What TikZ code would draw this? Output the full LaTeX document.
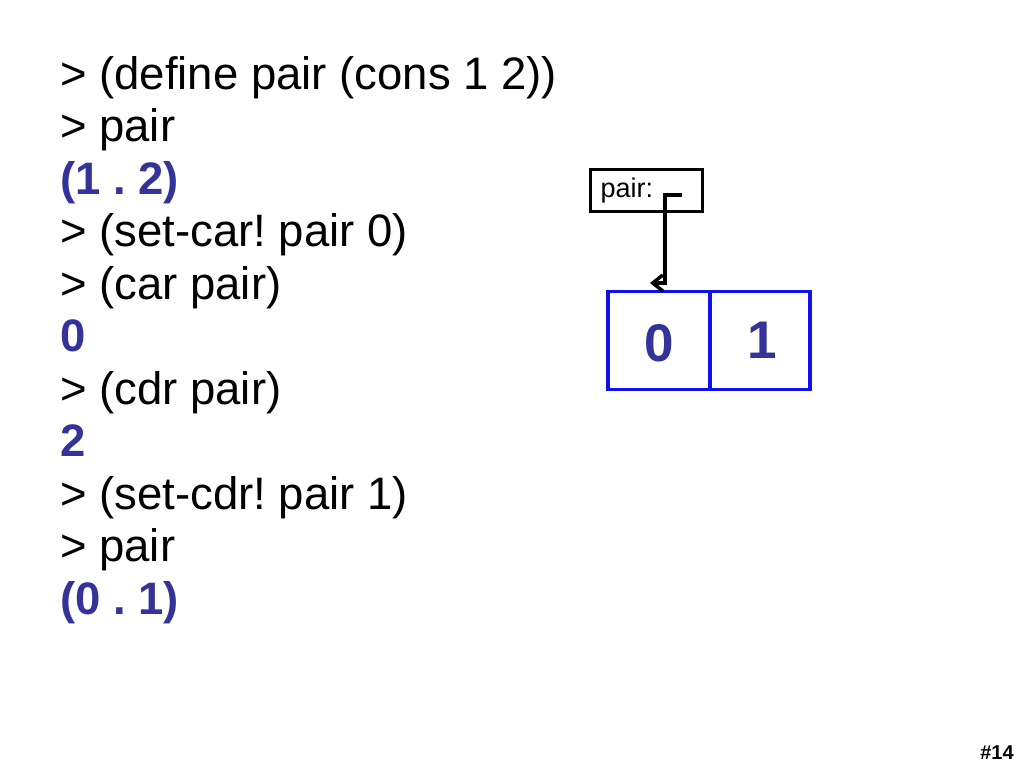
\documentclass[tikz,border=0pt]{standalone}
\usepackage{fontspec}
\setmainfont{Liberation Sans}
\usetikzlibrary{arrows.meta}
\definecolor{ansblue}{HTML}{333399}
\definecolor{cellblue}{HTML}{1010E8}
\frenchspacing
\begin{document}
\begin{tikzpicture}[x=1pt,y=-1pt,
  codeline/.style={anchor=base west,inner sep=0pt,font=\fontsize{45.5}{45.5}\selectfont},
  answer/.style={codeline,text=ansblue,font=\fontsize{45.5}{45.5}\selectfont\bfseries},
  cell/.style={draw=cellblue,line width=3.5pt,minimum height=98pt,inner sep=0pt,text=ansblue,font=\fontsize{53}{53}\selectfont\bfseries},
  varbox/.style={draw=black,line width=3.5pt,minimum width=112pt,minimum height=42pt,inner xsep=10pt,inner ysep=0pt,text width=92pt,align=left,font=\fontsize{27}{27}\selectfont}
]
\useasboundingbox (0,0) rectangle (1024,768);
\fill[white] (0,0) rectangle (1024,768);
\node[codeline] (l1) at (60,89) {> (define pair (cons 1 2))};
\node[codeline] (l2) at (60,141.5) {> pair};
\node[answer] (l3) at (60,194) {(1 . 2)};
\node[codeline] (l4) at (60,246.5) {> (set-car! pair 0)};
\node[codeline] (l5) at (60,299) {> (car pair)};
\node[answer] (l6) at (60,351.5) {0};
\node[codeline] (l7) at (60,404) {> (cdr pair)};
\node[answer] (l8) at (60,456.5) {2};
\node[codeline] (l9) at (60,509) {> (set-cdr! pair 1)};
\node[codeline] (l10) at (60,561.5) {> pair};
\node[answer] (l11) at (60,614) {(0 . 1)};

\node[varbox] (pairbox) at (646.5,190.5) {pair:};
\node[cell,minimum width=102pt] (car) at (659,340.5) {\raisebox{-4pt}[34pt][0pt]{0}\hspace{8pt}};
\node[cell,minimum width=100pt] (cdr) at (760,340.5) {\hspace{4pt}1};

\coordinate (ptr) at (682,195);
\coordinate (tip) at (650,283);
\draw[line width=3.5pt,-{Straight Barb[length=10pt,width=16pt]}] (ptr) -- ++(-17,0) |- (tip);

\node[font=\fontsize{20}{20}\selectfont\bfseries,anchor=base] (num) at (997,759) {\#14};
\end{tikzpicture}
\end{document}
